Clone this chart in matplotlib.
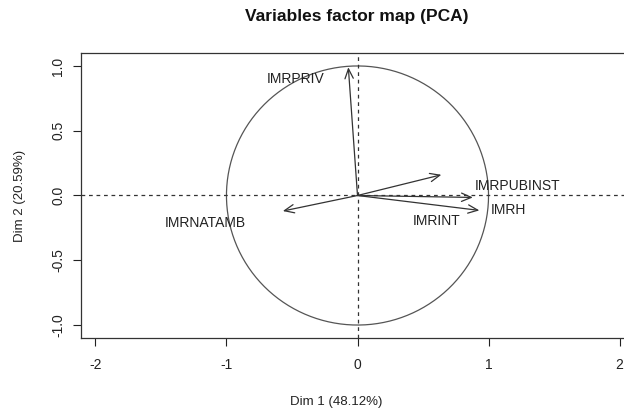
import numpy as np
import matplotlib
matplotlib.use('Agg')
import matplotlib.pyplot as plt

plt.rcParams['font.family'] = ['Liberation Sans', 'DejaVu Sans']

# coordinates of the variables on Dim 1 / Dim 2
variables = ['IMRPRIV', 'IMRINT', 'IMRPUBINST', 'IMRH', 'IMRNATAMB']
dim1 = [-0.07, 0.64, 0.88, 0.93, -0.57]
dim2 = [0.99, 0.16, -0.015, -0.115, -0.12]
# where the labels are written
lab_x = [-0.47, 0.60, 1.22, 1.15, -1.16]
lab_y = [0.90, -0.20, 0.07, -0.115, -0.215]

xticks = [-2, -1, 0, 1, 2]
yticks = [-1.0, -0.5, 0.0, 0.5, 1.0]

fig = plt.figure(figsize=(6.24, 4.11), dpi=100)
ax = fig.add_axes([81 / 624, 1 - 338 / 411, 553 / 624, 285 / 411])
ax.set_xlim(-2.11, 2.11)
ax.set_ylim(-1.1, 1.1)

ink = '#333333'
# unit circle
t = np.linspace(0, 2 * np.pi, 400)
ax.plot(np.cos(t), np.sin(t), color='#555555', lw=0.9)
# dashed reference lines
ax.axhline(0, color=ink, lw=0.9, ls=(0, (3, 3)))
ax.axvline(0, color=ink, lw=0.9, ls=(0, (3, 3)))

for i in range(len(variables)):
    ax.annotate('', xy=(dim1[i], dim2[i]), xytext=(0, 0),
                arrowprops=dict(arrowstyle='->, head_length=0.7, head_width=0.3',
                                color=ink, lw=0.9, shrinkA=0, shrinkB=0))
    ax.text(lab_x[i], lab_y[i], variables[i], fontsize=10, color='#222222',
            ha='center', va='center')

ax.set_xticks(xticks)
ax.set_xticklabels(['-2', '-1', '0', '1', '2'])
ax.set_yticks(yticks)
ax.set_yticklabels(['-1.0', '-0.5', '0.0', '0.5', '1.0'], rotation=90, va='center')
ax.tick_params(direction='out', length=5.5, width=0.8, labelsize=10,
               colors='#222222')
ax.tick_params(axis='x', pad=9)
ax.tick_params(axis='y', pad=6)
for s in ax.spines.values():
    s.set_color('#333333')
    s.set_linewidth(0.9)

fig.text(357 / 624, 1 - 17 / 411, 'Variables factor map (PCA)', fontsize=12.5,
         fontweight='bold', ha='center', va='center', color='#111111')
fig.text(336 / 624, 1 - 402 / 411, 'Dim 1 (48.12%)', fontsize=9.5,
         ha='center', va='center', color='#222222')
fig.text(20 / 624, 1 - 196 / 411, 'Dim 2 (20.59%)', fontsize=9.5, rotation=90,
         ha='center', va='center', color='#222222')

fig.savefig('out.png', dpi=100)
